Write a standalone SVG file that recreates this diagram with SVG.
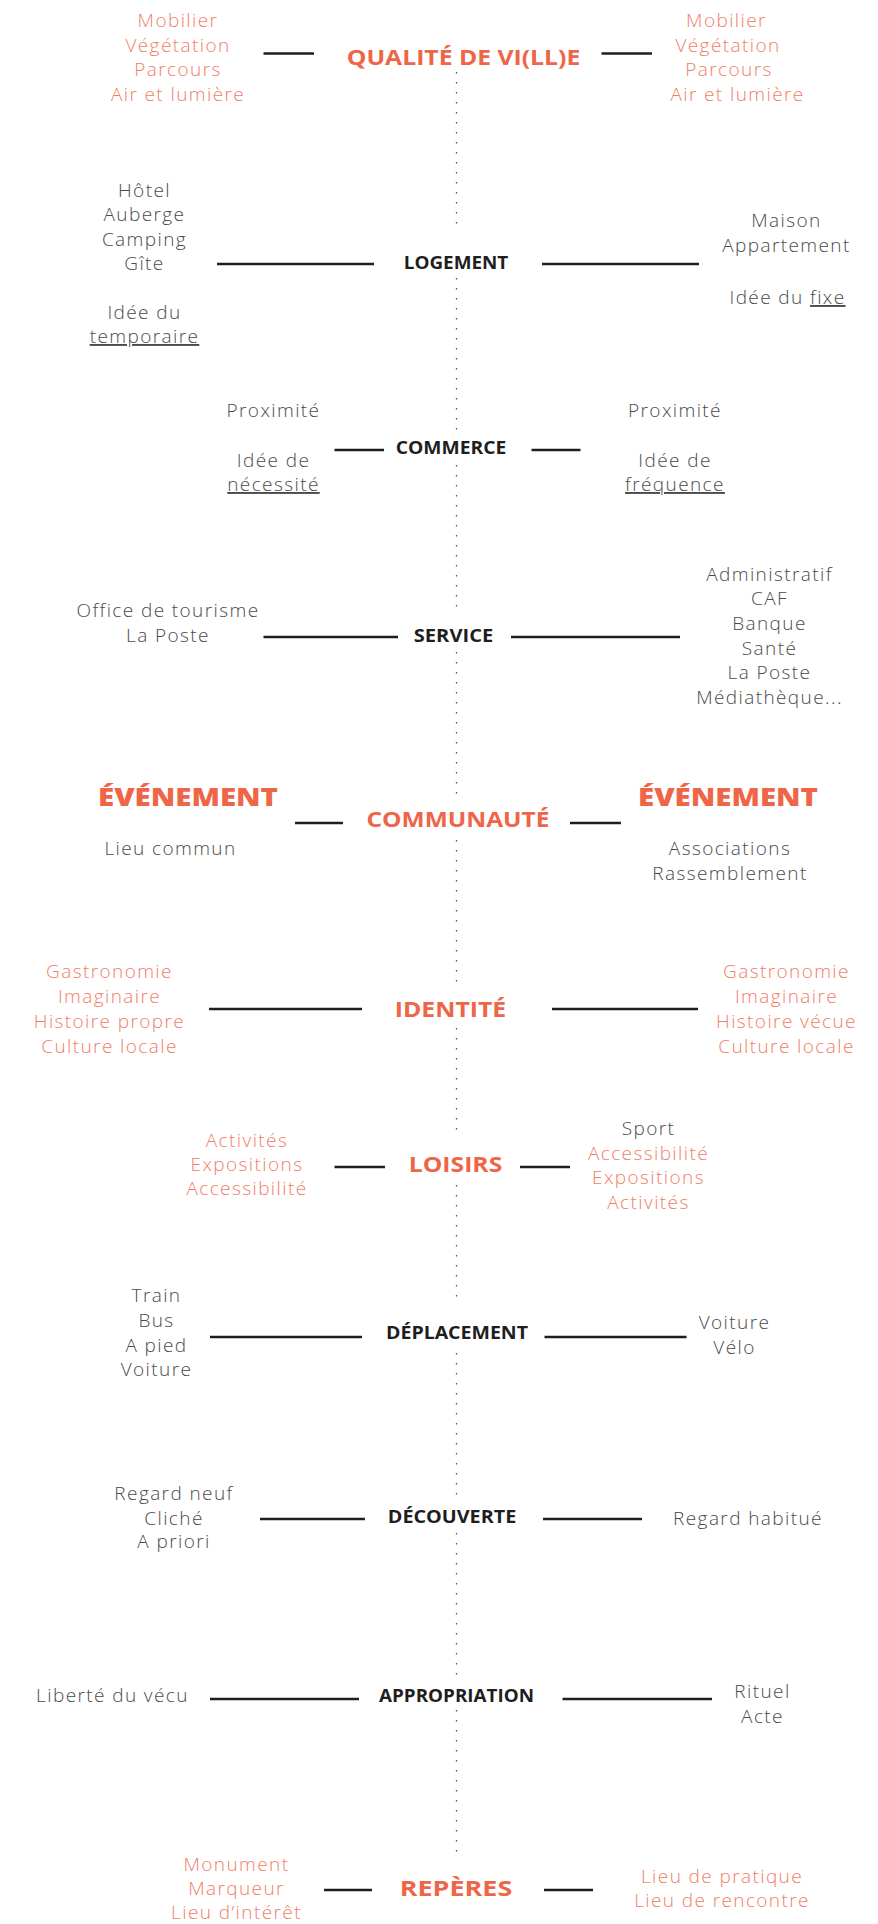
<svg xmlns="http://www.w3.org/2000/svg" width="878" height="1924" viewBox="0 0 878 1924">
<style>
  .t { font-family: "Open Sans", "Noto Sans", "Liberation Sans", sans-serif; font-weight: 300; font-size: 19px; letter-spacing: 1.4px; text-anchor: middle; fill: #4a4a4a; }
  .c { fill: #f07e67; }
  .u { text-decoration: underline; }
  .h { font-family: "Open Sans", "Liberation Sans", sans-serif; font-weight: 700; font-size: 17px; text-anchor: middle; fill: #1e1e1e; }
  .hc { font-family: "Open Sans", "Liberation Sans", sans-serif; font-weight: 700; font-size: 22px; text-anchor: middle; fill: #ee6548; }
  .hb { font-family: "Open Sans", "Liberation Sans", sans-serif; font-weight: 800; font-size: 25px; text-anchor: middle; fill: #ee6548; }
  .ln { stroke: #1e1e1e; stroke-width: 2.6; fill: none; }
  .dot { stroke: #555; stroke-width: 1.3; stroke-dasharray: 1.5 8.5; fill: none; }
</style>
<rect width="878" height="1924" fill="#ffffff"/>

<g id="connectors">
  <g id="axis">
    <line class="dot" x1="456.5" y1="72" x2="456.5" y2="228"/>
    <line class="dot" x1="456.5" y1="278" x2="456.5" y2="433"/>
    <line class="dot" x1="456.5" y1="465" x2="456.5" y2="613"/>
    <line class="dot" x1="456.5" y1="652" x2="456.5" y2="799"/>
    <line class="dot" x1="456.5" y1="840" x2="456.5" y2="988"/>
    <line class="dot" x1="456.5" y1="1028" x2="456.5" y2="1136"/>
    <line class="dot" x1="456.5" y1="1185" x2="456.5" y2="1303"/>
    <line class="dot" x1="456.5" y1="1353" x2="456.5" y2="1501"/>
    <line class="dot" x1="456.5" y1="1533" x2="456.5" y2="1679"/>
    <line class="dot" x1="456.5" y1="1710" x2="456.5" y2="1856"/>
  </g>
  <line class="ln" x1="263.5" y1="53.5" x2="314" y2="53.5"/>
  <line class="ln" x1="601.5" y1="53.5" x2="652" y2="53.5"/>
  <line class="ln" x1="217" y1="264" x2="374" y2="264"/>
  <line class="ln" x1="542" y1="264" x2="699" y2="264"/>
  <line class="ln" x1="334.5" y1="450" x2="384" y2="450"/>
  <line class="ln" x1="531.5" y1="450" x2="580.5" y2="450"/>
  <line class="ln" x1="263.5" y1="637" x2="398" y2="637"/>
  <line class="ln" x1="511" y1="637" x2="680" y2="637"/>
  <line class="ln" x1="295" y1="823" x2="343" y2="823"/>
  <line class="ln" x1="570" y1="823" x2="621" y2="823"/>
  <line class="ln" x1="209" y1="1009" x2="362" y2="1009"/>
  <line class="ln" x1="552" y1="1009" x2="698" y2="1009"/>
  <line class="ln" x1="334.5" y1="1167" x2="385" y2="1167"/>
  <line class="ln" x1="520" y1="1167" x2="570" y2="1167"/>
  <line class="ln" x1="210" y1="1337" x2="362" y2="1337"/>
  <line class="ln" x1="544.5" y1="1337" x2="686.5" y2="1337"/>
  <line class="ln" x1="260" y1="1519" x2="365" y2="1519"/>
  <line class="ln" x1="543" y1="1519" x2="642" y2="1519"/>
  <line class="ln" x1="210" y1="1699" x2="359" y2="1699"/>
  <line class="ln" x1="562.5" y1="1699" x2="712" y2="1699"/>
  <line class="ln" x1="324" y1="1890" x2="372" y2="1890"/>
  <line class="ln" x1="544" y1="1890" x2="593" y2="1890"/>
</g>

<g id="qualite">
  <text class="hc" x="463.5" y="65" textLength="233.5" lengthAdjust="spacingAndGlyphs">QUALITÉ DE VI(LL)E</text>
  <text class="t c" x="178" y="27">Mobilier</text>
  <text class="t c" x="178" y="52">Végétation</text>
  <text class="t c" x="178" y="76">Parcours</text>
  <text class="t c" x="178" y="101">Air et lumière</text>
  <text class="t c" x="726.5" y="27">Mobilier</text>
  <text class="t c" x="728" y="52">Végétation</text>
  <text class="t c" x="729" y="76">Parcours</text>
  <text class="t c" x="737.5" y="101">Air et lumière</text>
</g>

<g id="logement">
  <text class="h" x="456" y="269" textLength="104.5" lengthAdjust="spacingAndGlyphs">LOGEMENT</text>
  <text class="t" x="144.5" y="197">Hôtel</text>
  <text class="t" x="144.5" y="221">Auberge</text>
  <text class="t" x="144.5" y="245.5">Camping</text>
  <text class="t" x="144.5" y="270">Gîte</text>
  <text class="t" x="144.5" y="319">Idée du</text>
  <text class="t u" x="144.5" y="343">temporaire</text>
  <text class="t" x="786.5" y="227">Maison</text>
  <text class="t" x="786.5" y="252">Appartement</text>
  <text class="t" x="787.5" y="304">Idée du <tspan class="u">fixe</tspan></text>
</g>

<g id="commerce">
  <text class="h" x="451" y="454" textLength="110.5" lengthAdjust="spacingAndGlyphs">COMMERCE</text>
  <text class="t" x="273.5" y="417">Proximité</text>
  <text class="t" x="273.5" y="467">Idée de</text>
  <text class="t u" x="273.5" y="491">nécessité</text>
  <text class="t" x="675" y="417">Proximité</text>
  <text class="t" x="675" y="467">Idée de</text>
  <text class="t u" x="675" y="491">fréquence</text>
</g>

<g id="service">
  <text class="h" x="453.5" y="642" textLength="79.5" lengthAdjust="spacingAndGlyphs">SERVICE</text>
  <text class="t" x="168" y="617">Office de tourisme</text>
  <text class="t" x="168" y="642">La Poste</text>
  <text class="t" x="769.5" y="581">Administratif</text>
  <text class="t" x="769.5" y="605">CAF</text>
  <text class="t" x="769.5" y="630">Banque</text>
  <text class="t" x="769.5" y="655">Santé</text>
  <text class="t" x="769.5" y="679">La Poste</text>
  <text class="t" x="769.5" y="704">Médiathèque...</text>
</g>

<g id="communaute">
  <text class="hc" x="458" y="827" textLength="183" lengthAdjust="spacingAndGlyphs">COMMUNAUTÉ</text>
  <text class="hb" x="188" y="806" textLength="180" lengthAdjust="spacingAndGlyphs">ÉVÉNEMENT</text>
  <text class="hb" x="728" y="806" textLength="180" lengthAdjust="spacingAndGlyphs">ÉVÉNEMENT</text>
  <text class="t" x="170.5" y="855">Lieu commun</text>
  <text class="t" x="730" y="855">Associations</text>
  <text class="t" x="730" y="880">Rassemblement</text>
</g>

<g id="identite">
  <text class="hc" x="450.5" y="1017" textLength="111.5" lengthAdjust="spacingAndGlyphs">IDENTITÉ</text>
  <text class="t c" x="109.5" y="978">Gastronomie</text>
  <text class="t c" x="109.5" y="1003">Imaginaire</text>
  <text class="t c" x="109.5" y="1028">Histoire propre</text>
  <text class="t c" x="109.5" y="1053">Culture locale</text>
  <text class="t c" x="786.5" y="978">Gastronomie</text>
  <text class="t c" x="786.5" y="1003">Imaginaire</text>
  <text class="t c" x="786.5" y="1028">Histoire vécue</text>
  <text class="t c" x="786.5" y="1053">Culture locale</text>
</g>

<g id="loisirs">
  <text class="hc" x="455.5" y="1172" textLength="93.5" lengthAdjust="spacingAndGlyphs">LOISIRS</text>
  <text class="t c" x="247" y="1147">Activités</text>
  <text class="t c" x="247" y="1171">Expositions</text>
  <text class="t c" x="247" y="1195">Accessibilité</text>
  <text class="t" x="648.5" y="1135">Sport</text>
  <text class="t c" x="648.5" y="1160">Accessibilité</text>
  <text class="t c" x="648.5" y="1184">Expositions</text>
  <text class="t c" x="648.5" y="1209">Activités</text>
</g>

<g id="deplacement">
  <text class="h" x="457" y="1339" textLength="142" lengthAdjust="spacingAndGlyphs">DÉPLACEMENT</text>
  <text class="t" x="156.5" y="1302">Train</text>
  <text class="t" x="156.5" y="1327">Bus</text>
  <text class="t" x="156.5" y="1352">A pied</text>
  <text class="t" x="156.5" y="1376">Voiture</text>
  <text class="t" x="734.5" y="1329">Voiture</text>
  <text class="t" x="734.5" y="1354">Vélo</text>
</g>

<g id="decouverte">
  <text class="h" x="452" y="1523" textLength="128.5" lengthAdjust="spacingAndGlyphs">DÉCOUVERTE</text>
  <text class="t" x="174" y="1500">Regard neuf</text>
  <text class="t" x="174" y="1525">Cliché</text>
  <text class="t" x="174" y="1548">A priori</text>
  <text class="t" x="748" y="1525">Regard habitué</text>
</g>

<g id="appropriation">
  <text class="h" x="456.5" y="1702" textLength="155" lengthAdjust="spacingAndGlyphs">APPROPRIATION</text>
  <text class="t" x="112.5" y="1702">Liberté du vécu</text>
  <text class="t" x="762.5" y="1698">Rituel</text>
  <text class="t" x="762.5" y="1723">Acte</text>
</g>

<g id="reperes">
  <text class="hc" x="456" y="1896" textLength="112.5" lengthAdjust="spacingAndGlyphs">REPÈRES</text>
  <text class="t c" x="236.5" y="1871">Monument</text>
  <text class="t c" x="236.5" y="1895">Marqueur</text>
  <text class="t c" x="236.5" y="1919">Lieu d’intérêt</text>
  <text class="t c" x="722" y="1883">Lieu de pratique</text>
  <text class="t c" x="722" y="1907">Lieu de rencontre</text>
</g>
</svg>
